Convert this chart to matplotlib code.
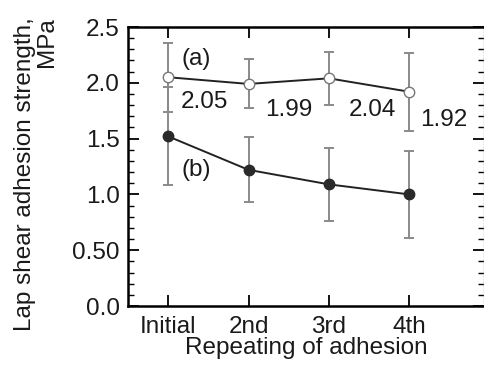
import numpy as np
import matplotlib
matplotlib.use("Agg")
import matplotlib.pyplot as plt
from matplotlib.ticker import MultipleLocator

plt.rcParams['font.family'] = ['Liberation Sans', 'DejaVu Sans']
plt.rcParams['font.size'] = 17.5

# data
rounds = ['Initial', '2nd', '3rd', '4th']
strength_a = [2.05, 1.99, 2.04, 1.92]
err_a = [0.31, 0.22, 0.24, 0.35]
strength_b = [1.52, 1.22, 1.09, 1.00]
err_b = [0.44, 0.29, 0.33, 0.39]
value_labels_a = ['2.05', '1.99', '2.04', '1.92']

x = np.arange(1, len(rounds) + 1)

fig = plt.figure(figsize=(4.84, 3.67), dpi=100)
ax = fig.add_axes([0.2645, 0.1662, 0.7355, 0.7602])

err_col = '#8a8a8a'
ax.errorbar(x, strength_a, yerr=err_a, fmt='none', ecolor=err_col,
            elinewidth=1.4, capsize=3.5, capthick=1.4, zorder=2)
ax.errorbar(x, strength_b, yerr=err_b, fmt='none', ecolor=err_col,
            elinewidth=1.4, capsize=3.5, capthick=1.4, zorder=2)

ax.plot(x, strength_a, '-o', color='#222222', lw=1.4, ms=7.5,
        mfc='white', mec='#777777', mew=1.0, zorder=3)
ax.plot(x, strength_b, '-o', color='#222222', lw=1.4, ms=7.5,
        mfc='#2a2a2a', mec='#2a2a2a', zorder=3)

# series tags and mean values
ax.text(1.17, 2.21, '(a)', ha='left', va='center', color='#1a1a1a')
ax.text(1.17, 1.22, '(b)', ha='left', va='center', color='#1a1a1a')
label_x = [1.15, 2.21, 3.25, 4.13]
label_y = [1.83, 1.76, 1.76, 1.67]
for lx, ly, s in zip(label_x, label_y, value_labels_a):
    ax.text(lx, ly, s, ha='left', va='center', color='#1a1a1a')

ax.set_xlim(0.5, 4.93)
ax.set_ylim(0, 2.5)
ax.set_xticks(x)
ax.set_xticklabels(rounds)
ax.set_yticks([0, 0.5, 1.0, 1.5, 2.0, 2.5])
ax.set_yticklabels(['0.0', '0.50', '1.0', '1.5', '2.0', '2.5'])
ax.yaxis.set_minor_locator(MultipleLocator(0.1))

ax.tick_params(axis='y', which='major', direction='in', length=8, width=1.3,
               left=True, right=True, pad=6)
ax.tick_params(axis='y', which='minor', direction='in', length=4, width=1.0,
               left=True, right=True)
ax.tick_params(axis='x', which='major', direction='in', length=8, width=1.3,
               top=True, bottom=True, pad=7.5)
ax.tick_params(labelcolor='#1a1a1a')

for side in ['left', 'bottom', 'top']:
    ax.spines[side].set_linewidth(1.8)
ax.spines['right'].set_color('#bbbbbb')
ax.spines['right'].set_linewidth(1.0)

ax.set_xlabel('Repeating of adhesion', labelpad=-1, color='#1a1a1a')
ax.set_ylabel('Lap shear adhesion strength,\nMPa', multialignment='right',
              linespacing=1.0, color='#1a1a1a')
ax.yaxis.set_label_coords(-0.197, 0.473)

fig.savefig('out.png', dpi=100)
